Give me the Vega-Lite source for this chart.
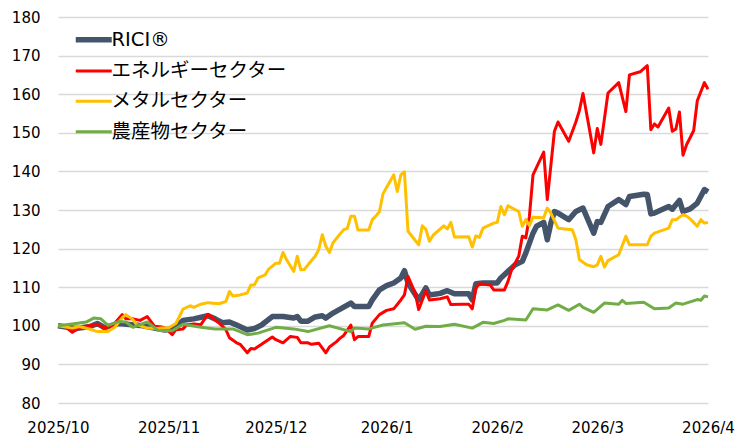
{
 "$schema": "https://vega.github.io/schema/vega-lite/v6.json",
 "width": 650, "height": 386,
 "autosize": {"type": "none"},
 "padding": {"left": 58, "top": 17, "right": 42, "bottom": 33},
 "background": "white",
 "datasets": {
  "rici": [{"d":"2025/10/01","v":100},{"d":"2025/10/06","v":99.3},{"d":"2025/10/10","v":99.8},{"d":"2025/10/12","v":100.6},{"d":"2025/10/14","v":99.5},{"d":"2025/10/18","v":100.6},{"d":"2025/10/24","v":100.1},{"d":"2025/10/28","v":99.4},{"d":"2025/10/31","v":98.9},{"d":"2025/11/03","v":99.6},{"d":"2025/11/05","v":101.4},{"d":"2025/11/08","v":101.8},{"d":"2025/11/11","v":102.4},{"d":"2025/11/12","v":102.6},{"d":"2025/11/14","v":101.8},{"d":"2025/11/16","v":100.8},{"d":"2025/11/18","v":101.0},{"d":"2025/11/20","v":100.2},{"d":"2025/11/23","v":98.9},{"d":"2025/11/25","v":99.3},{"d":"2025/11/27","v":100.2},{"d":"2025/11/30","v":102.4},{"d":"2025/12/03","v":102.4},{"d":"2025/12/06","v":102.0},{"d":"2025/12/07","v":102.4},{"d":"2025/12/08","v":101.2},{"d":"2025/12/10","v":101.2},{"d":"2025/12/12","v":102.3},{"d":"2025/12/14","v":102.6},{"d":"2025/12/15","v":102.0},{"d":"2025/12/17","v":103.3},{"d":"2025/12/19","v":104.3},{"d":"2025/12/22","v":105.9},{"d":"2025/12/23","v":105.0},{"d":"2025/12/27","v":105.0},{"d":"2025/12/28","v":106.7},{"d":"2025/12/30","v":109.3},{"d":"2026/01/01","v":110.4},{"d":"2026/01/03","v":111.1},{"d":"2026/01/05","v":112.4},{"d":"2026/01/06","v":114.3},{"d":"2026/01/07","v":111.1},{"d":"2026/01/10","v":106.7},{"d":"2026/01/12","v":109.8},{"d":"2026/01/13","v":108.0},{"d":"2026/01/16","v":108.4},{"d":"2026/01/18","v":109.1},{"d":"2026/01/20","v":108.3},{"d":"2026/01/24","v":108.3},{"d":"2026/01/25","v":106.7},{"d":"2026/01/26","v":110.9},{"d":"2026/01/28","v":111.1},{"d":"2026/01/30","v":111.1},{"d":"2026/02/01","v":111.1},{"d":"2026/02/02","v":112.4},{"d":"2026/02/04","v":114.1},{"d":"2026/02/06","v":115.8},{"d":"2026/02/08","v":116.7},{"d":"2026/02/09","v":118.9},{"d":"2026/02/11","v":124.0},{"d":"2026/02/12","v":125.8},{"d":"2026/02/14","v":126.8},{"d":"2026/02/15","v":122.3},{"d":"2026/02/16","v":126.6},{"d":"2026/02/17","v":129.6},{"d":"2026/02/18","v":129.2},{"d":"2026/02/21","v":127.5},{"d":"2026/02/23","v":129.6},{"d":"2026/02/25","v":130.5},{"d":"2026/02/28","v":124.0},{"d":"2026/03/01","v":127.0},{"d":"2026/03/02","v":126.8},{"d":"2026/03/04","v":130.9},{"d":"2026/03/07","v":132.7},{"d":"2026/03/09","v":131.4},{"d":"2026/03/10","v":133.5},{"d":"2026/03/14","v":134.1},{"d":"2026/03/15","v":134.0},{"d":"2026/03/16","v":129.0},{"d":"2026/03/17","v":129.2},{"d":"2026/03/21","v":130.9},{"d":"2026/03/22","v":130.2},{"d":"2026/03/24","v":132.5},{"d":"2026/03/25","v":129.6},{"d":"2026/03/27","v":130.3},{"d":"2026/03/29","v":131.8},{"d":"2026/03/31","v":135.3},{"d":"2026/04/01","v":134.7}],
  "energy": [{"d":"2025/10/01","v":100},{"d":"2025/10/03","v":99.8},{"d":"2025/10/05","v":98.3},{"d":"2025/10/07","v":99.5},{"d":"2025/10/09","v":99.9},{"d":"2025/10/12","v":100.4},{"d":"2025/10/14","v":99.4},{"d":"2025/10/16","v":100.0},{"d":"2025/10/17","v":100.8},{"d":"2025/10/19","v":102.9},{"d":"2025/10/20","v":101.8},{"d":"2025/10/22","v":101.8},{"d":"2025/10/24","v":101.4},{"d":"2025/10/26","v":102.4},{"d":"2025/10/28","v":99.9},{"d":"2025/10/30","v":99.7},{"d":"2025/10/31","v":99.4},{"d":"2025/11/02","v":97.7},{"d":"2025/11/03","v":99.0},{"d":"2025/11/05","v":99.2},{"d":"2025/11/06","v":100.2},{"d":"2025/11/08","v":100.5},{"d":"2025/11/10","v":100.3},{"d":"2025/11/12","v":103.0},{"d":"2025/11/14","v":101.5},{"d":"2025/11/15","v":100.8},{"d":"2025/11/17","v":99.0},{"d":"2025/11/18","v":96.9},{"d":"2025/11/20","v":95.6},{"d":"2025/11/21","v":95.2},{"d":"2025/11/23","v":93.0},{"d":"2025/11/24","v":94.1},{"d":"2025/11/25","v":94.0},{"d":"2025/11/27","v":95.2},{"d":"2025/11/30","v":97.1},{"d":"2025/12/01","v":96.4},{"d":"2025/12/03","v":95.6},{"d":"2025/12/05","v":97.2},{"d":"2025/12/07","v":97.0},{"d":"2025/12/08","v":95.6},{"d":"2025/12/10","v":95.6},{"d":"2025/12/11","v":95.2},{"d":"2025/12/13","v":95.5},{"d":"2025/12/15","v":93.0},{"d":"2025/12/16","v":94.5},{"d":"2025/12/18","v":95.9},{"d":"2025/12/19","v":96.8},{"d":"2025/12/20","v":97.5},{"d":"2025/12/22","v":100.2},{"d":"2025/12/23","v":96.4},{"d":"2025/12/24","v":97.2},{"d":"2025/12/27","v":97.2},{"d":"2025/12/28","v":100.7},{"d":"2025/12/30","v":102.9},{"d":"2026/01/01","v":104.0},{"d":"2026/01/03","v":104.4},{"d":"2026/01/05","v":106.7},{"d":"2026/01/06","v":108.0},{"d":"2026/01/07","v":112.8},{"d":"2026/01/09","v":108.5},{"d":"2026/01/10","v":104.2},{"d":"2026/01/12","v":109.1},{"d":"2026/01/13","v":106.7},{"d":"2026/01/16","v":107.0},{"d":"2026/01/18","v":107.5},{"d":"2026/01/19","v":105.5},{"d":"2026/01/22","v":105.6},{"d":"2026/01/24","v":105.6},{"d":"2026/01/25","v":104.4},{"d":"2026/01/26","v":109.8},{"d":"2026/01/27","v":110.9},{"d":"2026/01/30","v":110.6},{"d":"2026/01/31","v":109.3},{"d":"2026/02/03","v":109.3},{"d":"2026/02/04","v":111.5},{"d":"2026/02/05","v":114.5},{"d":"2026/02/07","v":118.0},{"d":"2026/02/08","v":123.2},{"d":"2026/02/09","v":122.8},{"d":"2026/02/10","v":128.4},{"d":"2026/02/11","v":139.1},{"d":"2026/02/14","v":145.0},{"d":"2026/02/15","v":132.7},{"d":"2026/02/17","v":150.4},{"d":"2026/02/18","v":152.8},{"d":"2026/02/21","v":147.8},{"d":"2026/02/23","v":152.8},{"d":"2026/02/24","v":155.8},{"d":"2026/02/25","v":160.2},{"d":"2026/02/28","v":144.8},{"d":"2026/03/01","v":151.1},{"d":"2026/03/02","v":147.0},{"d":"2026/03/04","v":160.3},{"d":"2026/03/07","v":163.0},{"d":"2026/03/09","v":155.5},{"d":"2026/03/10","v":165.0},{"d":"2026/03/13","v":165.8},{"d":"2026/03/15","v":167.4},{"d":"2026/03/16","v":150.8},{"d":"2026/03/17","v":152.3},{"d":"2026/03/18","v":151.5},{"d":"2026/03/21","v":156.4},{"d":"2026/03/22","v":150.4},{"d":"2026/03/23","v":151.0},{"d":"2026/03/24","v":155.4},{"d":"2026/03/25","v":144.2},{"d":"2026/03/26","v":146.9},{"d":"2026/03/28","v":150.6},{"d":"2026/03/29","v":158.3},{"d":"2026/03/31","v":163.0},{"d":"2026/04/01","v":161.3}],
  "metal": [{"d":"2025/10/01","v":100},{"d":"2025/10/05","v":99.4},{"d":"2025/10/07","v":99.8},{"d":"2025/10/10","v":99.1},{"d":"2025/10/12","v":98.5},{"d":"2025/10/15","v":98.5},{"d":"2025/10/17","v":99.7},{"d":"2025/10/19","v":102.1},{"d":"2025/10/20","v":102.9},{"d":"2025/10/22","v":101.6},{"d":"2025/10/23","v":100.3},{"d":"2025/10/26","v":99.4},{"d":"2025/10/29","v":99.3},{"d":"2025/10/30","v":99.4},{"d":"2025/11/01","v":99.5},{"d":"2025/11/03","v":100.6},{"d":"2025/11/04","v":102.4},{"d":"2025/11/05","v":104.3},{"d":"2025/11/07","v":105.2},{"d":"2025/11/08","v":104.8},{"d":"2025/11/10","v":105.6},{"d":"2025/11/12","v":106.0},{"d":"2025/11/15","v":105.7},{"d":"2025/11/17","v":106.3},{"d":"2025/11/18","v":108.9},{"d":"2025/11/19","v":107.7},{"d":"2025/11/21","v":108.0},{"d":"2025/11/23","v":108.5},{"d":"2025/11/24","v":110.6},{"d":"2025/11/25","v":110.6},{"d":"2025/11/26","v":112.4},{"d":"2025/11/28","v":113.2},{"d":"2025/11/29","v":114.7},{"d":"2025/12/01","v":116.2},{"d":"2025/12/02","v":116.2},{"d":"2025/12/03","v":119.0},{"d":"2025/12/04","v":117.1},{"d":"2025/12/06","v":114.1},{"d":"2025/12/07","v":118.0},{"d":"2025/12/08","v":114.5},{"d":"2025/12/09","v":114.6},{"d":"2025/12/10","v":115.8},{"d":"2025/12/12","v":118.0},{"d":"2025/12/13","v":119.7},{"d":"2025/12/14","v":123.6},{"d":"2025/12/15","v":120.6},{"d":"2025/12/16","v":119.0},{"d":"2025/12/17","v":121.5},{"d":"2025/12/19","v":123.8},{"d":"2025/12/20","v":124.9},{"d":"2025/12/21","v":125.2},{"d":"2025/12/22","v":128.4},{"d":"2025/12/23","v":128.4},{"d":"2025/12/24","v":124.8},{"d":"2025/12/27","v":124.8},{"d":"2025/12/28","v":127.5},{"d":"2025/12/29","v":128.4},{"d":"2025/12/30","v":129.6},{"d":"2025/12/31","v":134.2},{"d":"2026/01/03","v":139.1},{"d":"2026/01/04","v":134.8},{"d":"2026/01/05","v":139.1},{"d":"2026/01/06","v":139.9},{"d":"2026/01/07","v":124.5},{"d":"2026/01/10","v":121.0},{"d":"2026/01/11","v":125.9},{"d":"2026/01/12","v":125.0},{"d":"2026/01/13","v":121.9},{"d":"2026/01/14","v":123.4},{"d":"2026/01/17","v":125.9},{"d":"2026/01/18","v":125.1},{"d":"2026/01/19","v":126.8},{"d":"2026/01/20","v":123.0},{"d":"2026/01/24","v":123.1},{"d":"2026/01/25","v":120.4},{"d":"2026/01/26","v":123.3},{"d":"2026/01/27","v":122.9},{"d":"2026/01/28","v":125.3},{"d":"2026/01/31","v":126.6},{"d":"2026/02/01","v":126.8},{"d":"2026/02/02","v":130.9},{"d":"2026/02/03","v":128.8},{"d":"2026/02/04","v":131.1},{"d":"2026/02/07","v":129.6},{"d":"2026/02/08","v":125.8},{"d":"2026/02/09","v":127.5},{"d":"2026/02/10","v":126.0},{"d":"2026/02/11","v":128.1},{"d":"2026/02/14","v":128.0},{"d":"2026/02/15","v":130.5},{"d":"2026/02/16","v":129.2},{"d":"2026/02/18","v":125.3},{"d":"2026/02/22","v":124.9},{"d":"2026/02/23","v":122.3},{"d":"2026/02/24","v":117.1},{"d":"2026/02/26","v":115.8},{"d":"2026/02/28","v":115.3},{"d":"2026/03/01","v":115.8},{"d":"2026/03/02","v":118.0},{"d":"2026/03/03","v":115.2},{"d":"2026/03/04","v":116.9},{"d":"2026/03/07","v":118.4},{"d":"2026/03/09","v":123.2},{"d":"2026/03/10","v":121.0},{"d":"2026/03/15","v":121.0},{"d":"2026/03/16","v":123.2},{"d":"2026/03/17","v":124.0},{"d":"2026/03/21","v":125.3},{"d":"2026/03/22","v":127.5},{"d":"2026/03/23","v":127.5},{"d":"2026/03/25","v":128.8},{"d":"2026/03/26","v":128.4},{"d":"2026/03/27","v":127.7},{"d":"2026/03/29","v":125.8},{"d":"2026/03/30","v":127.5},{"d":"2026/03/31","v":126.6},{"d":"2026/04/01","v":126.8}],
  "agri": [{"d":"2025/10/01","v":100},{"d":"2025/10/06","v":100.6},{"d":"2025/10/09","v":101.0},{"d":"2025/10/11","v":102.0},{"d":"2025/10/13","v":101.8},{"d":"2025/10/15","v":100.1},{"d":"2025/10/18","v":101.1},{"d":"2025/10/20","v":101.0},{"d":"2025/10/22","v":99.6},{"d":"2025/10/26","v":101.0},{"d":"2025/10/29","v":98.8},{"d":"2025/11/02","v":98.7},{"d":"2025/11/05","v":100.4},{"d":"2025/11/10","v":99.6},{"d":"2025/11/14","v":99.2},{"d":"2025/11/19","v":99.2},{"d":"2025/11/23","v":97.7},{"d":"2025/11/26","v":98.1},{"d":"2025/12/01","v":99.6},{"d":"2025/12/06","v":99.2},{"d":"2025/12/10","v":98.5},{"d":"2025/12/16","v":100.0},{"d":"2025/12/22","v":98.5},{"d":"2025/12/23","v":99.4},{"d":"2025/12/27","v":99.2},{"d":"2025/12/31","v":100.2},{"d":"2026/01/06","v":100.8},{"d":"2026/01/09","v":99.1},{"d":"2026/01/12","v":99.9},{"d":"2026/01/16","v":99.8},{"d":"2026/01/20","v":100.4},{"d":"2026/01/25","v":99.4},{"d":"2026/01/28","v":100.9},{"d":"2026/01/31","v":100.6},{"d":"2026/02/03","v":101.4},{"d":"2026/02/04","v":101.8},{"d":"2026/02/09","v":101.5},{"d":"2026/02/11","v":104.4},{"d":"2026/02/15","v":104.1},{"d":"2026/02/18","v":105.4},{"d":"2026/02/21","v":104.0},{"d":"2026/02/24","v":105.6},{"d":"2026/02/25","v":104.8},{"d":"2026/02/28","v":103.5},{"d":"2026/03/03","v":105.9},{"d":"2026/03/07","v":105.6},{"d":"2026/03/08","v":106.6},{"d":"2026/03/09","v":105.8},{"d":"2026/03/14","v":106.1},{"d":"2026/03/17","v":104.4},{"d":"2026/03/21","v":104.6},{"d":"2026/03/23","v":105.9},{"d":"2026/03/25","v":105.6},{"d":"2026/03/29","v":106.8},{"d":"2026/03/30","v":106.6},{"d":"2026/03/31","v":107.7},{"d":"2026/04/01","v":107.5}]
 },
 "encoding": {
  "x": {"field": "d", "type": "temporal",
   "scale": {"domain": [{"year": 2025, "month": 10, "date": 1}, {"year": 2026, "month": 4, "date": 1}]},
   "axis": {"title": null, "grid": false, "domain": false, "ticks": false, "tickSize": 0, "labelPadding": 17, "labelFontSize": 15, "labelColor": "#000", "format": "%Y/%-m", "labelOverlap": false, "labelFlush": false,
    "values": [{"year": 2025, "month": 10, "date": 1}, {"year": 2025, "month": 11, "date": 1}, {"year": 2025, "month": 12, "date": 1}, {"year": 2026, "month": 1, "date": 1}, {"year": 2026, "month": 2, "date": 1}, {"year": 2026, "month": 3, "date": 1}, {"year": 2026, "month": 4, "date": 1}]}},
  "y": {"field": "v", "type": "quantitative", "scale": {"domain": [80, 180], "nice": false, "zero": false},
   "axis": {"title": null, "values": [80, 90, 100, 110, 120, 130, 140, 150, 160, 170, 180], "domain": false, "ticks": false, "tickSize": 0, "labelPadding": 18, "labelFontSize": 15, "labelColor": "#000", "gridColor": "#d9d9d9", "gridWidth": 1.5}}
 },
 "layer": [
  {"data": {"name": "rici"}, "mark": {"type": "line", "strokeJoin": "round", "strokeWidth": 5.5},
   "encoding": {
    "color": {"datum": "RICI®", "type": "nominal", "scale": {"domain": ["RICI®", "エネルギーセクター", "メタルセクター", "農産物セクター"], "range": ["#44546A", "#FF0000", "#FFC000", "#70AD47"]},
     "legend": {"orient": "none", "legendX": 26, "legendY": 13, "title": null, "labelFontSize": 19.5, "labelFont": "DejaVu Sans, Noto Sans CJK JP", "labelColor": "#000", "labelOffset": 8, "rowPadding": 9.3, "padding": 0, "symbolSize": 400, "symbolType": "M-1.8,0H1.8", "labelLimit": 0,
      "encode": {"symbols": {"update": {"strokeWidth": {"signal": "datum.value === 'RICI®' ? 5.5 : 3"}}}}}}}},
  {"data": {"name": "energy"}, "mark": {"type": "line", "strokeJoin": "round", "strokeWidth": 3},
   "encoding": {"color": {"datum": "エネルギーセクター", "type": "nominal"}}},
  {"data": {"name": "metal"}, "mark": {"type": "line", "strokeJoin": "round", "strokeWidth": 3},
   "encoding": {"color": {"datum": "メタルセクター", "type": "nominal"}}},
  {"data": {"name": "agri"}, "mark": {"type": "line", "strokeJoin": "round", "strokeWidth": 3},
   "encoding": {"color": {"datum": "農産物セクター", "type": "nominal"}}}
 ],
 "resolve": {"scale": {"color": "shared"}},
 "config": {"view": {"stroke": null}, "font": "DejaVu Sans"}
}
